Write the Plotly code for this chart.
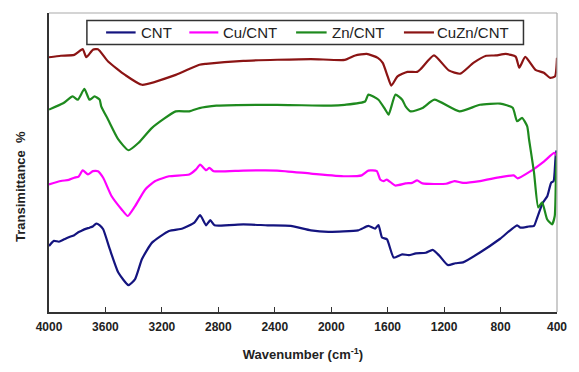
import plotly.graph_objects as go

# ---- data (wavenumber cm-1, transmittance in arbitrary % units) ----
wn_cnt = [4000, 3965, 3930, 3893, 3860, 3821, 3795, 3773, 3740, 3713, 3690, 3665, 3640, 3616,
          3569, 3509, 3437, 3390, 3341, 3270, 3150, 3054, 2970, 2929, 2887, 2857, 2827, 2623,
          2450, 2287, 2144, 2020, 1809, 1737, 1689, 1665, 1640, 1605, 1557, 1497, 1450, 1400,
          1330, 1281, 1233, 1174, 1120, 1066, 946, 803, 683, 658, 600, 563, 540, 503, 468, 442,
          424, 407, 400]
t_cnt = [22.1, 23.8, 23.5, 24.3, 25.0, 25.7, 26.6, 27.1, 27.8, 28.2, 28.6, 29.6, 29.0, 27.7,
         21.0, 13.2, 9.0, 11.0, 17.7, 23.2, 27.1, 27.9, 29.9, 32.4, 29.0, 30.7, 29.0, 29.3,
         29.0, 28.8, 27.3, 26.8, 27.3, 28.8, 27.9, 29.1, 24.9, 24.3, 18.2, 19.3, 19.0, 19.6,
         19.8, 20.8, 18.8, 15.7, 16.3, 16.6, 19.9, 24.5, 29.0, 28.2, 28.6, 28.8, 31.6, 36.3,
         38.8, 43.2, 43.8, 53.8, 52.5]

wn_cu = [4000, 3916, 3860, 3821, 3790, 3761, 3724, 3689, 3653, 3616, 3557, 3485, 3442, 3390,
         3318, 3247, 3150, 3006, 2958, 2929, 2887, 2863, 2833, 2623, 2384, 2144, 1904, 1784,
         1737, 1677, 1653, 1628, 1606, 1546, 1473, 1426, 1391, 1353, 1186, 1126, 1066, 946,
         803, 707, 679, 587, 491, 419, 400]
t_cu = [42.7, 43.8, 44.2, 44.9, 45.3, 47.4, 46.0, 47.1, 47.1, 44.9, 38.8, 34.3, 32.1, 35.4,
        41.0, 43.8, 45.4, 46.0, 47.7, 49.3, 47.4, 48.2, 47.1, 47.3, 47.3, 46.3, 45.4, 45.7,
        47.3, 47.1, 44.3, 43.8, 44.3, 42.3, 43.0, 43.2, 44.0, 43.0, 42.9, 43.8, 43.2, 43.8,
        45.1, 45.7, 44.7, 47.1, 50.4, 53.2, 52.1]

wn_zn = [4000, 3900, 3833, 3796, 3749, 3713, 3677, 3641, 3630, 3581, 3509, 3437, 3365, 3270,
         3102, 3006, 2934, 2887, 2814, 2384, 2000, 1904, 1760, 1737, 1665, 1617, 1593, 1545,
         1497, 1473, 1437, 1353, 1269, 1091, 946, 803, 714, 683, 647, 611, 598, 563, 533, 505,
         470, 435, 416, 407, 400]
t_zn = [67.7, 69.8, 72.1, 71.0, 74.6, 71.0, 72.1, 71.0, 68.8, 64.3, 57.7, 54.1, 56.6, 61.6,
        67.1, 67.1, 68.2, 68.6, 69.0, 69.3, 69.0, 69.3, 70.4, 72.7, 71.0, 67.7, 66.0, 72.7,
        71.0, 68.8, 67.1, 68.2, 71.0, 67.1, 69.3, 69.7, 68.3, 63.8, 64.9, 62.1, 57.7, 46.7,
        35.0, 36.7, 31.0, 29.3, 32.1, 46.7, 53.3]

wn_cuzn = [4000, 3916, 3821, 3761, 3736, 3689, 3653, 3581, 3461, 3341, 3102, 2934, 2887, 2623,
           2144, 1904, 1830, 1749, 1670, 1635, 1600, 1574, 1530, 1460, 1391, 1365, 1272, 1167,
           1086, 993, 902, 833, 763, 693, 667, 625, 553, 493, 449, 414, 400]
t_cuzn = [85.2, 85.7, 86.0, 87.9, 85.2, 87.7, 87.9, 83.8, 79.3, 76.0, 79.3, 82.7, 83.0, 84.0,
          84.6, 84.3, 85.8, 86.3, 85.0, 83.3, 78.8, 75.7, 78.8, 80.3, 80.3, 81.3, 85.8, 80.8,
          79.7, 83.3, 85.7, 85.8, 86.3, 85.4, 81.7, 85.3, 81.0, 80.0, 78.3, 78.8, 85.0]

names = ["CNT", "Cu/CNT", "Zn/CNT", "CuZn/CNT"]
colors = ["#14147F", "#FF00FF", "#1E8A1E", "#8B1414"]
x_ticks = [4000, 3600, 3200, 2800, 2400, 2000, 1600, 1200, 800, 400]

FONT = "Liberation Sans, Arial, sans-serif"

fig = go.Figure()
for name, xs, ys, c in zip(names, [wn_cnt, wn_cu, wn_zn, wn_cuzn],
                           [t_cnt, t_cu, t_zn, t_cuzn], colors):
    fig.add_trace(go.Scatter(x=xs, y=ys, mode="lines", name=name, showlegend=False,
                             line=dict(color=c, width=2.2, shape="spline", smoothing=0.5)))

# legend drawn in paper coordinates (box, line samples, labels)
leg_line_x = [(0.1124, 0.1705), (0.2762, 0.3333), (0.4864, 0.5465), (0.6987, 0.7578)]
leg_text_x = [0.1764, 0.3391, 0.5523, 0.7597]
leg_y = 0.935

shapes = [
    dict(type="line", xref="paper", yref="paper", x0=0, x1=1, y0=1, y1=1,
         line=dict(color="#AAAAAA", width=1.2)),
    dict(type="line", xref="paper", yref="paper", x0=1, x1=1, y0=0, y1=1,
         line=dict(color="#AAAAAA", width=1.2)),
    dict(type="rect", xref="paper", yref="paper", x0=0.0746, x1=0.934, y0=0.895, y1=0.975,
         fillcolor="white", line=dict(color="#333333", width=1.5), layer="above"),
]
annotations = [
    dict(text="<b>Transimittance  %</b>", xref="paper", yref="paper",
         x=-0.056, y=0.42, xanchor="center", yanchor="middle", textangle=-90,
         showarrow=False, font=dict(family=FONT, size=13, color="#222222")),
]
for (a, b), tx, name, c in zip(leg_line_x, leg_text_x, names, colors):
    shapes.append(dict(type="line", xref="paper", yref="paper", x0=a, x1=b,
                       y0=leg_y, y1=leg_y, line=dict(color=c, width=2.2), layer="above"))
    annotations.append(dict(text=name, xref="paper", yref="paper", x=tx, y=leg_y,
                            xanchor="left", yanchor="middle", showarrow=False,
                            font=dict(family=FONT, size=15, color="#222222")))

fig.update_layout(
    width=579, height=372,
    margin=dict(l=49, r=14, t=13, b=59),
    plot_bgcolor="white", paper_bgcolor="white",
    showlegend=False,
    shapes=shapes,
    annotations=annotations,
)

fig.update_xaxes(
    range=[4000, 400], tickvals=x_ticks, ticktext=[str(v) for v in x_ticks],
    ticks="inside", ticklen=5, tickwidth=1.2, tickcolor="#333333",
    showline=True, linecolor="#333333", linewidth=1.5,
    showgrid=False, zeroline=False, ticklabelstandoff=3,
    tickfont=dict(family=FONT, size=12, color="#222222", weight="bold"),
    title=dict(text="Wavenumber (cm<sup>-1</sup>)", standoff=17,
               font=dict(family=FONT, size=13, color="#222222", weight="bold")),
)
fig.update_yaxes(
    range=[0, 100], showticklabels=False, ticks="",
    showline=True, linecolor="#333333", linewidth=1.5,
    showgrid=False, zeroline=False,
)

fig.write_html("out.html")
